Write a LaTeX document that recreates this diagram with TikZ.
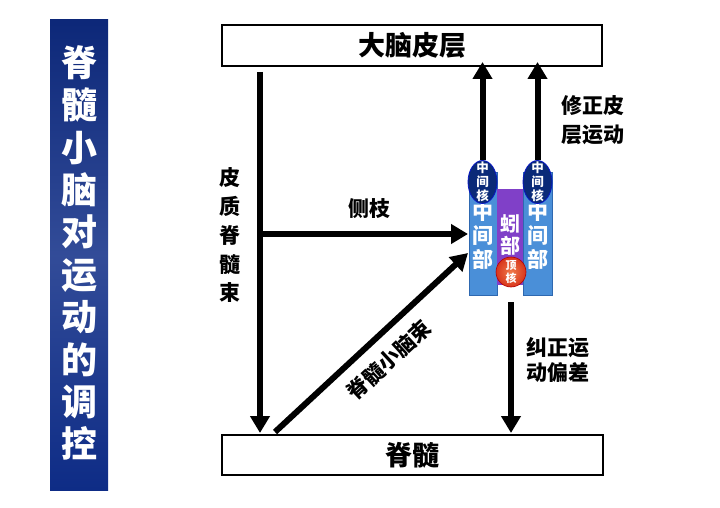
\documentclass[tikz,border=0pt]{standalone}
\usepackage{fontspec}
\setmainfont{Noto Sans CJK SC}
\usetikzlibrary{arrows.meta,shapes.geometric}
\definecolor{navy}{HTML}{0E2C86}
\definecolor{midblue}{HTML}{4A8FD8}
\definecolor{midblueb}{HTML}{2E68B0}
\definecolor{vermis}{HTML}{8040C8}
\definecolor{nucl}{HTML}{0A2A78}
\definecolor{fastin}{HTML}{F07A4A}
\definecolor{fastout}{HTML}{D8361C}
\newcommand{\fs}[2]{\fontsize{#1}{#2}\selectfont\lineskiplimit=-100pt\lineskip=0pt\bfseries}
\tikzset{
  box/.style={draw=black,line width=2pt,fill=white},
  bigarrow/.style={line width=6pt,-{Triangle[length=17pt,width=19pt]}},
  lbl/.style={font=\fs{21}{25},inner sep=0pt,align=center},
  vlbl/.style={font=\fs{21}{28.75},inner sep=0pt,align=center},
  part/.style={draw=midblueb,line width=0.8pt,fill=midblue},
  wtxt/.style={text=white,inner sep=0pt,align=center},
}
\begin{document}
\begin{tikzpicture}[x=1pt,y=-1pt]
\useasboundingbox (0,0) rectangle (720,508);
\fill[white] (0,0) rectangle (720,508);
% title bar
\shade[top color=navy!90!black,bottom color=navy,middle color=navy!85!white] (50,20) rectangle (108,490);
\node[wtxt,font=\fs{36}{42.4}] (title) at (79,253) {脊\\髓\\小\\脑\\对\\运\\动\\的\\调\\控};
% boxes
\node[box,minimum width=380pt,minimum height=41pt,inner sep=0pt,font=\fs{27}{30}] (cortex) at (412,45.5) {大脑皮层};
\node[box,minimum width=381pt,minimum height=40pt,inner sep=0pt,font=\fs{27}{30}] (cord) at (412.5,455) {脊髓};
% cerebellum
\draw[part] (469,172) rectangle (497,295);
\draw[part] (523,172) rectangle (552,295);
\fill[vermis] (497,189) rectangle (523,285);
\node[wtxt,font=\fs{21}{24}] (lpart) at (483,236) {中\\间\\部};
\node[wtxt,font=\fs{21}{24}] (rpart) at (537.5,236) {中\\间\\部};
\node[wtxt,font=\fs{20}{22}] (vermtxt) at (510,235) {蚓\\部};
\node[ellipse,draw=blue!50!navy,line width=0.8pt,fill=nucl,minimum width=29pt,minimum height=43pt,inner sep=0pt] (lnuc) at (482.5,182) {};
\node[ellipse,draw=blue!50!navy,line width=0.8pt,fill=nucl,minimum width=29pt,minimum height=43pt,inner sep=0pt] (rnuc) at (537.5,182) {};
\node[wtxt,font=\fs{12.5}{14}] at (lnuc) {中\\间\\核};
\node[wtxt,font=\fs{12.5}{14}] at (rnuc) {中\\间\\核};
\node[circle,draw=red!70!black,line width=0.6pt,shading=radial,inner color=fastin,outer color=fastout,minimum size=30pt,inner sep=0pt] (fastig) at (511,272) {};
\node[wtxt,font=\fs{11}{12.5}] at (fastig) {顶\\核};
% coordinates
\coordinate (cstTop) at (260,72);
\coordinate (cstBot) at (260,433);
\coordinate (branch) at (260,234);
\coordinate (branchEnd) at (468,234);
\coordinate (sctStart) at (275,432);
\coordinate (sctEnd) at (468,253);
\coordinate (upLend) at (482.5,62);
\coordinate (upRend) at (537.5,62);
\coordinate (downStart) at (511,302);
\coordinate (downEnd) at (511,433);
% arrows
\draw[bigarrow] (cstTop) -- (cstBot);
\draw[bigarrow] (branch) -- (branchEnd);
\draw[bigarrow] (sctStart) -- (sctEnd);
\draw[bigarrow] (lnuc.north) -- (upLend);
\draw[bigarrow] (rnuc.north) -- (upRend);
\draw[bigarrow] (downStart) -- (downEnd);
% labels
\node[vlbl] (cstlbl) at (230,235.5) {皮\\质\\脊\\髓\\束};
\node[lbl] (brlbl) at (369,209) {侧枝};
\node[lbl,rotate=42.8] (sctlbl) at (389,360) {脊髓小脑束};
\node[lbl,font=\fs{21}{29}] (corrlbl) at (592.5,120.5) {修正皮\\层运动};
\node[lbl,font=\fs{21}{25}] (devlbl) at (557.5,359.5) {纠正运\\动偏差};
\end{tikzpicture}
\end{document}
